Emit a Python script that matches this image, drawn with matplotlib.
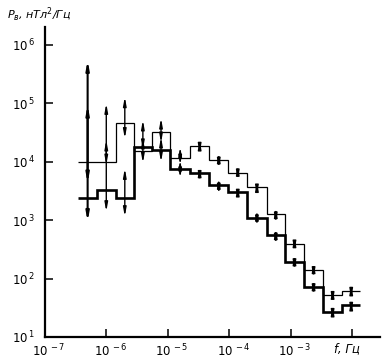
import matplotlib
matplotlib.use("Agg")
import matplotlib.pyplot as plt
import matplotlib.transforms as mtransforms
import numpy as np

# frequency bin edges, Hz
edges = [3.48e-7, 7.03e-7, 1.41e-6, 2.82e-6, 5.47e-6, 1.10e-5, 2.30e-5, 4.74e-5,
         9.66e-5, 1.97e-4, 4.06e-4, 8.11e-4, 1.65e-3, 3.40e-3, 6.87e-3, 1.37e-2]

# spectral density, nT^2/Hz
thin_level = [1.0e4, 1.0e4, 4.6e4, 1.55e4, 3.2e4, 1.15e4, 1.9e4, 1.07e4,
              6.5e3, 3.7e3, 1.26e3, 390, 138, 52, 62]
thick_level = [2.4e3, 3.3e3, 2.4e3, 1.8e4, 1.6e4, 7.6e3, 6.5e3, 4.0e3,
               3.0e3, 1.07e3, 550, 190, 71, 27, 35]

# error bars (double arrows): bin index, upper end, lower end
arrow_bin = [0, 0, 1, 1, 2, 2, 3, 3, 4, 4, 5, 5, 6, 6, 7, 7,
             8, 8, 9, 9, 10, 10, 11, 11, 12, 12, 13, 13, 14, 14]
arrow_hi = [5.5e5, 9.4e4, 1.0e5, 2.36e4, 1.3e5, 7.7e3, 5.2e4, 2.56e4, 5.6e4, 2.66e4,
            1.8e4, 1.07e4, 2.36e4, 8.2e3, 1.42e4, 5.2e3, 8.7e3, 3.85e3, 4.6e3, 1.48e3,
            1.64e3, 715, 520, 254, 187, 95, 68, 34, 78, 43]
arrow_lo = [4.3e3, 940, 8.8e3, 1.4e3, 2.5e4, 1.15e3, 1.6e4, 9.5e3, 2.1e4, 9.9e3,
            8.8e3, 5.3e3, 1.4e4, 4.6e3, 7.8e3, 2.8e3, 4.9e3, 2.2e3, 2.7e3, 800,
            900, 390, 297, 142, 104, 53, 39, 20, 46, 25.5]

xticks = [1e-7, 1e-6, 1e-5, 1e-4, 1e-3, 1e-2]
xticklabels = [r"$\mathit{10^{\,-7}}$", r"$\mathit{10^{\,-6}}$", r"$\mathit{10^{\,-5}}$",
               r"$\mathit{10^{\,-4}}$", r"$\mathit{10^{\,-3}}$", "f, Гц"]
yticks = [1e1, 1e2, 1e3, 1e4, 1e5, 1e6]
yticklabels = [r"$\mathit{10^{\,%d}}$" % k for k in range(1, 7)]

####################################
#              plot                #
####################################
fig = plt.figure(figsize=(3.84, 3.61), dpi=100)
ax = fig.add_axes([45 / 384, 24 / 361, 335 / 384, 310 / 361])
ax.set_xscale("log")
ax.set_yscale("log")
ax.set_xlim(1e-7, 10 ** -1.544)
ax.set_ylim(1e1, 10 ** 6.308)

ax.stairs(thin_level, edges, baseline=None, color="black", lw=0.9)
ax.stairs(thick_level, edges, baseline=None, color="black", lw=1.9)

centers = np.sqrt(np.array(edges[:-1]) * np.array(edges[1:]))
for i, b in enumerate(arrow_bin):
    lw = 1.5 if b == 0 else 1.0
    ax.annotate("", xy=(centers[b], arrow_hi[i]), xytext=(centers[b], arrow_lo[i]),
                arrowprops=dict(arrowstyle="<|-|>,head_length=0.5,head_width=0.09",
                                color="black", lw=lw, shrinkA=0, shrinkB=0))

for s in ["top", "right"]:
    ax.spines[s].set_visible(False)
for s in ["left", "bottom"]:
    ax.spines[s].set_linewidth(1.6)

ax.set_xticks(xticks)
ax.set_xticklabels(xticklabels, fontsize=8.5, style="italic")
ax.set_yticks(yticks)
ax.set_yticklabels(yticklabels, fontsize=8.5)
ax.minorticks_off()
ax.tick_params(axis="both", direction="in", length=6, width=1.1, pad=4)
ax.tick_params(axis="y", pad=7)

for lab in ax.get_xticklabels():
    dx = -5 if lab.get_text().startswith("f") else 4
    lab.set_transform(lab.get_transform() + mtransforms.ScaledTranslation(dx / 100, 0, fig.dpi_scale_trans))

fig.text(7 / 384, 1 - 15 / 361, r"$P_в$, нТл$^2$/Гц", fontsize=8, style="italic",
         ha="left", va="center")

plt.savefig("out.png", dpi=100)
plt.close()
